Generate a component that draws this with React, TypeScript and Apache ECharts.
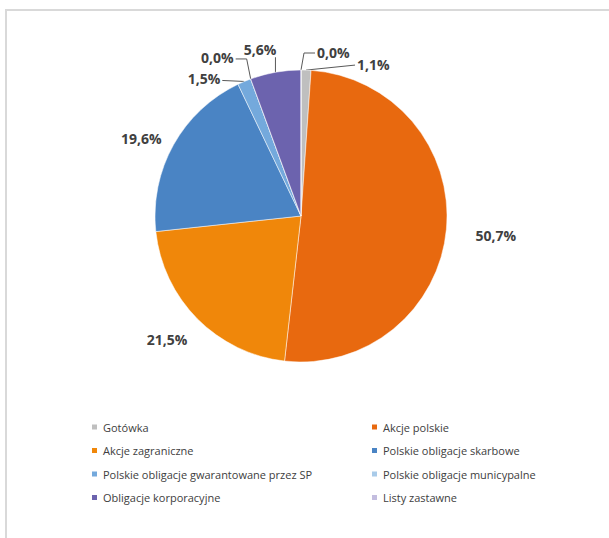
import React, { useEffect, useRef } from "react";
import * as echarts from "echarts";

const categories = [
  "Gotówka",
  "Akcje polskie",
  "Akcje zagraniczne",
  "Polskie obligacje skarbowe",
  "Polskie obligacje gwarantowane przez SP",
  "Polskie obligacje municypalne",
  "Obligacje korporacyjne",
  "Listy zastawne",
];
const shares = [1.1, 50.7, 21.5, 19.6, 1.5, 0.0, 5.6, 0.0];
const colors = ["#bfbfbf", "#e8690f", "#f0870a", "#4a84c4", "#74a9dc", "#a9cbe9", "#6c63ae", "#c3bddf"];

// label placement style, relative to the point on the slice edge at mid-angle
type LabelStyle = { dx: number; dy: number; align: string; line: number[][] | null };
const labelStyles: LabelStyle[] = [
  { dx: 51, dy: -6, align: "left", line: [[0, 0], [49, -5]] },
  { dx: 29, dy: 6, align: "left", line: null },
  { dx: -10, dy: 21, align: "right", line: null },
  { dx: -12, dy: -6, align: "right", line: null },
  { dx: -24, dy: -3, align: "right", line: [[0, 0], [-22, -1]] },
  { dx: -17, dy: -21, align: "right", line: [[0, 0], [-4, -20], [-15, -20]] },
  { dx: 1, dy: -23, align: "right", line: [[0, 0], [0, -15]] },
  { dx: 16, dy: -18, align: "left", line: [[0, 0], [3, -17], [14, -17]] },
];

const CX = 301;
const CY = 216;
const R = 146;

export default function App() {
  const ref = useRef<HTMLDivElement>(null);
  useEffect(() => {
    if (!ref.current) return;
    const chart = echarts.init(ref.current, null, { renderer: "svg" });
    const fmt = (v: number) => v.toFixed(1).replace(".", ",") + "%";
    const total = shares.reduce((a, b) => a + b, 0);
    let acc = 0;
    const edgePoints = shares.map((v) => {
      const mid = ((acc + v / 2) / total) * Math.PI * 2;
      acc += v;
      return [CX + R * Math.sin(mid), CY - R * Math.cos(mid)];
    });
    const data = categories.map((name, i) => ({
      name,
      value: shares[i],
      itemStyle: { color: colors[i] },
      labelLine: { show: !!labelStyles[i].line },
    }));
    const legendText = { fontFamily: "Open Sans", fontSize: 11, color: "#404040" };
    const legendBase = {
      orient: "vertical",
      top: 416.5,
      itemWidth: 7,
      itemHeight: 7,
      itemGap: 12.5,
      icon: "rect",
      textStyle: legendText,
    };
    chart.setOption({
      animation: false,
      backgroundColor: "#ffffff",
      graphic: [
        {
          type: "rect",
          shape: { x: 6, y: 10, width: 620, height: 540 },
          style: { fill: "none", stroke: "#d9d9d9", lineWidth: 2 },
        },
      ],
      legend: [
        { ...legendBase, left: 85, data: categories.filter((_, i) => i % 2 === 0) },
        { ...legendBase, left: 365, data: categories.filter((_, i) => i % 2 === 1) },
      ],
      series: [
        {
          type: "pie",
          center: [CX, CY],
          radius: R,
          startAngle: 90,
          clockwise: true,
          avoidLabelOverlap: false,
          data,
          label: {
            show: true,
            position: "outside",
            formatter: (p: any) => fmt(p.value),
            fontFamily: "Open Sans",
            fontWeight: "bold",
            fontSize: 14,
            color: "#404040",
          },
          labelLine: { lineStyle: { color: "#595959", width: 1 } },
          labelLayout: (p: any) => {
            const i = p.dataIndex;
            const s = labelStyles[i];
            const e = edgePoints[i];
            const out: any = {
              x: e[0] + s.dx,
              y: e[1] + s.dy,
              align: s.align,
              verticalAlign: "middle",
            };
            if (s.line) out.labelLinePoints = s.line.map((q) => [e[0] + q[0], e[1] + q[1]]);
            return out;
          },
          itemStyle: { borderColor: "#ffffff", borderWidth: 0.5 },
          emphasis: { disabled: true },
        },
      ],
    });
    return () => chart.dispose();
  }, []);
  return (
    <div
      ref={ref}
      style={{ position: "fixed", left: 0, top: 0, width: 609, height: 538 }}
    />
  );
}
